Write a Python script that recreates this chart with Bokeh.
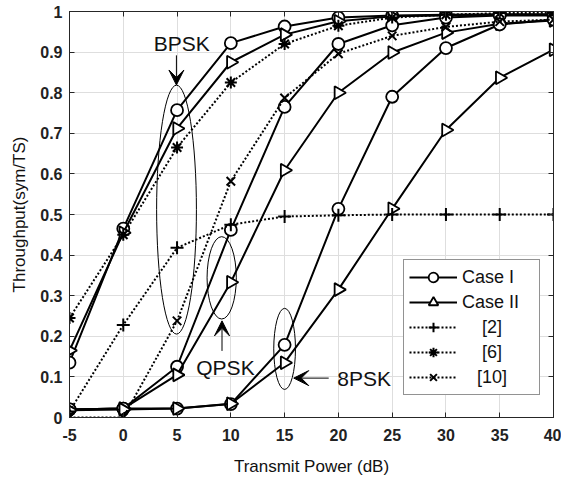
import math
from bokeh.plotting import figure
from bokeh.models import (Range1d, FixedTicker, LinearAxis, Legend, LegendItem,
                          Arrow, VeeHead, ColumnDataSource)
from bokeh.core.properties import value
from bokeh.embed import file_html
from bokeh.resources import INLINE

# ---------------- data ----------------
power_db = [-5, 0, 5, 10, 15, 20, 25, 30, 35, 40]

bpsk_case1 = [0.135, 0.465, 0.757, 0.922, 0.963, 0.985, 0.990, 0.992, 0.993, 0.993]
bpsk_case2 = [0.165, 0.455, 0.712, 0.875, 0.943, 0.976, 0.988, 0.990, 0.992, 0.992]
qpsk_case1 = [0.020, 0.022, 0.125, 0.462, 0.765, 0.920, 0.966, 0.985, 0.990, 0.990]
qpsk_case2 = [0.020, 0.022, 0.105, 0.333, 0.609, 0.800, 0.899, 0.948, 0.970, 0.978]
psk8_case1 = [0.020, 0.022, 0.022, 0.033, 0.179, 0.514, 0.790, 0.910, 0.968, 0.980]
psk8_case2 = [0.018, 0.020, 0.022, 0.034, 0.135, 0.315, 0.514, 0.708, 0.837, 0.906]
ref2 = [0.015, 0.228, 0.418, 0.475, 0.495, 0.498, 0.500, 0.500, 0.500, 0.500]
ref6 = [0.245, 0.450, 0.665, 0.825, 0.920, 0.965, 0.985, 0.992, 0.996, 0.997]
ref10 = [0.000, 0.000, 0.238, 0.582, 0.787, 0.896, 0.940, 0.962, 0.975, 0.980]

x_ticks = [-5, 0, 5, 10, 15, 20, 25, 30, 35, 40]
x_tick_labels = ["-5", "0", "5", "10", "15", "20", "25", "30", "35", "40"]
y_ticks = [0, 0.1, 0.2, 0.3, 0.4, 0.5, 0.6, 0.7, 0.8, 0.9, 1]
y_tick_labels = ["0", "0.1", "0.2", "0.3", "0.4", "0.5", "0.6", "0.7", "0.8", "0.9", "1"]

legend_labels = ["Case I", "Case II", "\u00a0\u00a0\u00a0\u00a0[2]",
                 "\u00a0\u00a0\u00a0\u00a0[6]", "\u00a0\u00a0\u00a0[10]"]

# annotations (ellipses, arrows, labels)
ell_x = [4.95, 9.15, 15.0]
ell_y = [0.512, 0.344, 0.169]
ell_w = [3.7, 2.72, 2.02]
ell_h = [0.613, 0.203, 0.200]

arr_x0 = [4.94, 9.18, 19.1]
arr_y0 = [0.892, 0.164, 0.097]
arr_x1 = [4.94, 9.18, 15.85]
arr_y1 = [0.819, 0.238, 0.097]

lbl_text = ["BPSK", "QPSK", "8PSK"]
lbl_x = [5.44, 9.5, 19.9]
lbl_y = [0.921, 0.124, 0.097]
lbl_align = ["center", "center", "left"]

FONT = "Liberation Sans"
AX = "#262626"

p = figure(width=561, height=478, x_range=Range1d(-5, 40), y_range=Range1d(0, 1),
           output_backend="svg", toolbar_location=None,
           min_border_left=69, min_border_right=8, min_border_top=11, min_border_bottom=59)
p.background_fill_color = "white"
p.outline_line_color = AX
p.outline_line_width = 1

xt = FixedTicker(ticks=x_ticks)
yt = FixedTicker(ticks=y_ticks)

for ax in p.xaxis:
    ax.ticker = xt
    ax.major_label_overrides = dict(zip(x_ticks, x_tick_labels))
    ax.axis_label = "Transmit Power (dB)"
    ax.axis_label_standoff = 13
    ax.major_label_standoff = 11
for ax in p.yaxis:
    ax.ticker = yt
    ax.major_label_overrides = dict(zip(y_ticks, y_tick_labels))
    ax.axis_label = "Throughput(sym/TS)"
    ax.axis_label_standoff = 8
    ax.major_label_standoff = 7

for ax in list(p.xaxis) + list(p.yaxis):
    ax.major_tick_in = 5
    ax.major_tick_out = 0
    ax.minor_tick_in = 0
    ax.minor_tick_out = 0
    ax.axis_line_color = AX
    ax.major_tick_line_color = AX
    ax.major_label_text_font = FONT
    ax.major_label_text_font_size = "16px"
    ax.major_label_text_font_style = "bold"
    ax.major_label_text_color = "#222222"
    ax.axis_label_text_font = FONT
    ax.axis_label_text_font_size = "17px"
    ax.axis_label_text_font_style = "normal"
    ax.axis_label_text_color = "#111111"

for place, tick in (("above", xt), ("right", yt)):
    a = LinearAxis(ticker=tick, major_tick_in=5, major_tick_out=0,
                   minor_tick_in=0, minor_tick_out=0,
                   axis_line_color=AX, major_tick_line_color=AX,
                   major_label_text_color=None, major_label_text_font_size="1px",
                   major_label_standoff=0)
    p.add_layout(a, place)

p.xgrid.ticker = xt
p.ygrid.ticker = yt
p.xgrid.grid_line_color = "#dedede"
p.ygrid.grid_line_color = "#dedede"

# ellipses
p.ellipse(x=ell_x, y=ell_y, width=ell_w, height=ell_h,
          fill_color=None, line_color="black", line_width=1)

solid_series = [
    (bpsk_case1, "circle"), (bpsk_case2, "triangle"),
    (qpsk_case1, "circle"), (qpsk_case2, "triangle"),
    (psk8_case1, "circle"), (psk8_case2, "triangle"),
]
legend_renderers = {}
for ys, mk in solid_series:
    src = ColumnDataSource(dict(x=power_db, y=ys))
    lr = p.line("x", "y", source=src, line_color="black", line_width=2)
    if mk == "circle":
        sr = p.scatter("x", "y", source=src, marker="circle", size=12,
                       fill_color="white", line_color="black", line_width=1.8)
    else:
        sr = p.scatter("x", "y", source=src, marker="triangle", size=13,
                       angle=-math.pi / 2, fill_color="white",
                       line_color="black", line_width=1.8)
    if mk not in legend_renderers:
        legend_renderers[mk] = [lr, sr]

ref_series = [(ref2, "cross", 13), (ref6, "asterisk", 12), (ref10, "x", 12)]
ref_rend = []
for ys, mk, sz in ref_series:
    src = ColumnDataSource(dict(x=power_db, y=ys))
    lr = p.line("x", "y", source=src, line_color="black", line_width=2, line_dash="2 2")
    sr = p.scatter("x", "y", source=src, marker=mk, size=sz,
                   line_color="black", line_width=2)
    ref_rend.append([lr, sr])

# arrows
for i in range(len(arr_x0)):
    p.add_layout(Arrow(end=VeeHead(size=15, fill_color="black", line_color="black",
                                   line_width=1),
                       x_start=arr_x0[i], y_start=arr_y0[i],
                       x_end=arr_x1[i], y_end=arr_y1[i],
                       line_color="black", line_width=1))

# labels
for i in range(len(lbl_text)):
    p.text(x=[lbl_x[i]], y=[lbl_y[i]], text=[lbl_text[i]],
           text_font=value(FONT), text_font_size="21px",
           text_align=lbl_align[i], text_baseline="middle", text_color="#111111")

items = [
    LegendItem(label=legend_labels[0], renderers=legend_renderers["circle"]),
    LegendItem(label=legend_labels[1], renderers=legend_renderers["triangle"]),
    LegendItem(label=legend_labels[2], renderers=ref_rend[0]),
    LegendItem(label=legend_labels[3], renderers=ref_rend[1]),
    LegendItem(label=legend_labels[4], renderers=ref_rend[2]),
]
legend = Legend(items=items, location=(334, 22), orientation="vertical",
                glyph_width=48, glyph_height=24, label_height=24, spacing=1,
                padding=5, margin=0, label_standoff=5, label_width=72,
                label_text_font=FONT, label_text_font_size="18px",
                label_text_color="#111111",
                border_line_color=AX, border_line_width=1,
                background_fill_color="white", background_fill_alpha=1)
p.add_layout(legend, "center")

open("out.html", "w").write(file_html(p, INLINE))
